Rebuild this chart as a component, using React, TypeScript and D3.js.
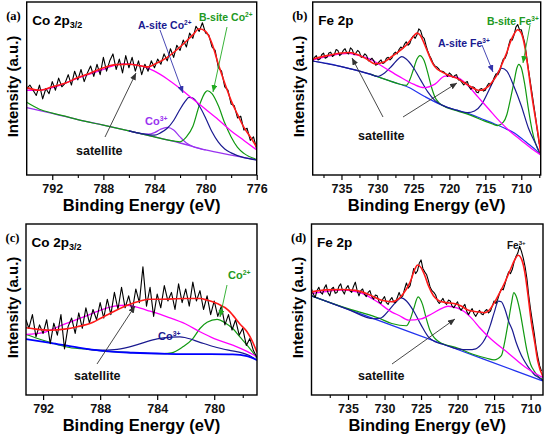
import React, { useEffect, useRef } from "react";
import * as d3 from "d3";

type Pt = [number, number];

// ---------- (a) Co 2p3/2 ----------
const aRaw: Pt[] = [
  [794, 50], [793.75, 52], [793.5, 49], [793.25, 46], [793, 52], [792.75, 44], [792.5, 50], [792.25, 47],
  [792, 54], [791.75, 49], [791.5, 56], [791.25, 51], [791, 53], [790.75, 58], [790.5, 52], [790.25, 60],
  [790, 55], [789.75, 61], [789.5, 54], [789.25, 59], [789, 63], [788.75, 57], [788.5, 64], [788.25, 58],
  [788, 68], [787.75, 60], [787.5, 66], [787.25, 70], [787, 61], [786.75, 67], [786.5, 59], [786.25, 69],
  [786, 62], [785.75, 68], [785.5, 60], [785.25, 66], [785, 58], [784.75, 64], [784.5, 60], [784.25, 66],
  [784, 62], [783.75, 67], [783.5, 64], [783.25, 70], [783, 66], [782.75, 73], [782.5, 68], [782.25, 75],
  [782, 72], [781.75, 78], [781.5, 74], [781.25, 82], [781, 79], [780.75, 86], [780.5, 83], [780.25, 88],
  [780, 82], [779.75, 81], [779.5, 74], [779.25, 72], [779, 62], [778.75, 60], [778.5, 51], [778.25, 49],
  [778, 41], [777.75, 40], [777.5, 33], [777.25, 34], [777, 26], [776.75, 27], [776.5, 20], [776.25, 22],
  [776, 15],
];
const aEnvelope: Pt[] = [
  [794, 50.5], [793, 49], [792, 51], [791, 53], [790, 56.3], [789, 59], [788, 62], [787, 63.8], [786, 64],
  [785, 63], [784.5, 62.5], [784, 64], [783, 68], [782, 74], [781, 81], [780.5, 84.5], [780, 83], [779.5, 76],
  [779, 64], [778.5, 53], [778, 43], [777.5, 35], [777, 27.5], [776.5, 22], [776, 16],
];
const aSatellite: Pt[] = [
  [794, 49], [793, 49], [792, 50.5], [791, 53], [790, 56], [789, 58.5], [788, 61], [787.5, 62.5], [786.4, 64.2],
  [785, 63], [784, 60], [783, 55.5], [782, 50], [781, 44], [780, 38], [779, 32], [778, 25.5], [777, 20], [776, 14.5],
];
const aBackground: Pt[] = [
  [794, 39], [792, 35.6], [790, 32], [788, 28.8], [786, 25.5], [784, 22], [782, 18.5], [780, 14.5], [778, 11.5], [776, 8.7],
];
const aASite: Pt[] = [
  [786, 25.5], [785, 23.9], [784, 23], [783.5, 24.5], [783, 27], [782.5, 31.5], [782, 38], [781.6, 42.5],
  [781.3, 44.9], [781, 44.5], [780.5, 40], [780, 33], [779.5, 25], [779, 19], [778.5, 15], [778, 12.8], [777, 10], [776, 8.7],
];
const aBSite: Pt[] = [
  [794, 42], [793, 38], [792, 35.8], [791, 34], [790, 32], [788, 28.8], [786, 25.5], [784, 22], [783, 20.3],
  [782, 19.2], [781.5, 22], [781, 28], [780.5, 40], [780, 48], [779.85, 48.7], [779.5, 47], [779, 40], [778.5, 30],
  [778, 22], [777.5, 16], [777, 12.5], [776, 9],
];
const aCo3: Pt[] = [
  [786, 25.5], [785, 23.8], [784.5, 23.6], [784, 24.5], [783.5, 26.5], [783, 27.5], [782.5, 26], [782, 22],
  [781.5, 18.5], [781, 16.5], [780, 14.5],
];

// ---------- (b) Fe 2p ----------
const bRaw: Pt[] = [
  [739, 66], [738.75, 68], [738.5, 69], [738.25, 66.5], [738, 67], [737.75, 69.5], [737.5, 70.5], [737.25, 67.5],
  [737, 68], [736.75, 70.5], [736.5, 71], [736.25, 68.5], [736, 69.5], [735.75, 72.5], [735.5, 72], [735.25, 69],
  [735, 70], [734.75, 72], [734.5, 73], [734.25, 70.5], [734, 70], [733.75, 73.5], [733.5, 72.5], [733.25, 69.5],
  [733, 70.5], [732.75, 72], [732.5, 71], [732.25, 68], [732, 68.5], [731.75, 70], [731.5, 69], [731.25, 66],
  [731, 66.5], [730.75, 67.5], [730.5, 66], [730.25, 63.5], [730, 64], [729.75, 65.5], [729.5, 66.5], [729.25, 64.5],
  [729, 65], [728.75, 67.5], [728.5, 68], [728.25, 66.5], [728, 67.5], [727.75, 70], [727.5, 71], [727.25, 70],
  [727, 72.5], [726.75, 74], [726.5, 73], [726.25, 75.5], [726, 77], [725.75, 75], [725.5, 76], [725.25, 79],
  [725, 80.5], [724.75, 79], [724.5, 81], [724.25, 84.5], [724, 83.5], [723.75, 80], [723.5, 79], [723.25, 75],
  [723, 71.5], [722.75, 69], [722.5, 67], [722.25, 64.5], [722, 63], [721.75, 62.5], [721.5, 61.5], [721.25, 60],
  [721, 60], [720.75, 59.5], [720.5, 58.5], [720.25, 57], [720, 59], [719.75, 58], [719.5, 56.5], [719.25, 57.5],
  [719, 58], [718.75, 55], [718.5, 55], [718.25, 53.5], [718, 52], [717.75, 53.5], [717.5, 54], [717.25, 51],
  [717, 49.5], [716.75, 51], [716.5, 50.5], [716.25, 48], [716, 47.5], [715.75, 49.5], [715.5, 50], [715.25, 48.5],
  [715, 49], [714.75, 51.5], [714.5, 53], [714.25, 52], [714, 53.5], [713.75, 56.5], [713.5, 58.5], [713.25, 58],
  [713, 60], [712.75, 64], [712.5, 67], [712.25, 67.5], [712, 70], [711.75, 75], [711.5, 78.5], [711.25, 78],
  [711, 81], [710.75, 85.5], [710.5, 87], [710.25, 84], [710, 84], [709.75, 80], [709.5, 76], [709.25, 68],
  [709, 61], [708.75, 54], [708.5, 47], [708.25, 40], [708, 33], [707.75, 25], [707.5, 18],
];
const bEnvelope: Pt[] = [
  [739, 67], [737, 69], [735, 70.5], [734, 70.8], [733, 70], [731.5, 67], [730.3, 64.3], [729, 65.5], [728, 68.5],
  [727, 71.5], [726, 75], [725.2, 79], [724.5, 82], [724, 80.5], [723.5, 76], [723, 71], [722.5, 66], [722, 62.5],
  [721, 59.5], [720, 57.5], [719, 56], [718, 53.5], [717, 51], [716, 49], [715.5, 49], [715, 50], [714.5, 51.5],
  [714, 54], [713.5, 57], [713, 61], [712.5, 66], [712, 71], [711.5, 77], [711, 81.5], [710.5, 84], [710, 82],
  [709.5, 74], [709, 60], [708.5, 45], [708, 32], [707.6, 22], [707.3, 12],
];
const bSatellite: Pt[] = [
  [739, 66.5], [737, 68.5], [735, 70], [734, 70.3], [733, 69.5], [731, 67], [729, 62], [727, 57], [725, 52.5],
  [723.5, 50.5], [722, 52.5], [720.6, 57.2], [719, 56.5], [717.5, 52], [716, 45], [714.5, 38], [713, 31],
  [711.5, 25], [710, 20], [708.5, 15], [707.3, 11.6],
];
const bBackground: Pt[] = [
  [739, 65.9], [737, 64.5], [735, 62.6], [732.5, 60], [730.3, 57.2], [728, 54], [725.7, 50.7], [723.5, 45.5],
  [721.1, 40.5], [719, 37.5], [717.4, 35.6], [715.5, 32.5], [713.7, 29.5], [712.3, 27], [710.9, 24.1],
  [709.9, 21], [709, 17.9], [708, 14.5], [707.3, 11.6],
];
const bASite: Pt[] = [
  [739, 65.9], [735, 62.6], [731, 58.3], [730, 57], [729, 59], [728, 63], [727, 67.5], [726.6, 68.4], [726, 67],
  [725, 62], [724, 55], [723, 48], [722, 43], [721, 40.4], [719, 37.5], [717.5, 36], [716.5, 37], [715.5, 41],
  [714.5, 49], [713.5, 57.5], [712.7, 61.7], [712, 60], [711, 51], [710, 40], [709, 27], [708, 18], [707.3, 11.6],
];
const bBSite: Pt[] = [
  [731, 58.3], [728, 54], [727, 52.6], [726, 51.8], [725.5, 55], [725, 61], [724.5, 67], [724.1, 69], [723.5, 66],
  [723, 59], [722.5, 51], [722, 45], [721.5, 42], [721, 40.3], [719, 37.2], [717, 34.5], [715, 31], [714, 29.5],
  [713.3, 28.5], [712.5, 30.5], [712, 35], [711.5, 44], [711, 54], [710.6, 62], [710.35, 64], [710, 62],
  [709.5, 52], [709, 38], [708.5, 26], [708, 18], [707.3, 11.6],
];

// ---------- (c) Co 2p3/2 ----------
const cRaw: Pt[] = [
  [793.2, 44], [793, 39], [792.75, 47], [792.5, 34], [792.25, 41], [792, 36], [791.75, 44], [791.5, 30],
  [791.25, 42], [791, 35], [790.75, 47], [790.5, 27], [790.25, 40], [790, 45], [789.75, 36], [789.5, 48],
  [789.25, 39], [789, 51], [788.75, 42], [788.5, 50], [788.25, 44], [788, 54], [787.75, 45], [787.5, 56],
  [787.25, 47], [787, 60], [786.75, 50], [786.5, 63], [786.25, 51], [786, 58], [785.75, 49], [785.5, 62],
  [785.25, 54], [785, 75], [784.75, 52], [784.5, 63], [784.25, 46], [784, 59], [783.75, 51], [783.5, 64],
  [783.25, 55], [783, 60], [782.75, 50], [782.5, 65], [782.25, 54], [782, 62], [781.75, 52], [781.5, 66],
  [781.25, 55], [781, 61], [780.75, 50], [780.5, 58], [780.25, 47], [780, 55], [779.75, 46], [779.5, 52],
  [779.25, 41], [779, 47], [778.75, 38], [778.5, 44], [778.25, 35], [778, 39], [777.75, 29], [777.5, 33],
  [777.25, 26], [777, 22],
];
const cEnvelope: Pt[] = [
  [793.2, 39.3], [792.5, 38.5], [791.5, 37.9], [790.5, 38.5], [789.6, 39.9], [788.5, 42.5], [788, 44.7],
  [787, 49], [786.1, 52.5], [785.2, 55], [784.5, 56], [783.8, 56], [782, 56.4], [781, 56.4], [780.5, 55.5],
  [779.8, 53.5], [779, 49.5], [778.7, 46.7], [778.2, 41.5], [777.7, 37], [777.3, 31], [777, 24.9],
];
const cSatellite: Pt[] = [
  [793.2, 35.4], [792, 36.5], [791.5, 38], [790.5, 41.5], [789.2, 45.5], [788, 49.5], [787, 52], [786.2, 52.5],
  [785.5, 51.5], [784.5, 49], [783.3, 45.7], [782, 41.5], [781, 37], [780, 33], [778.7, 29.2], [777.7, 25.5], [777, 22.4],
];
const cBackground: Pt[] = [
  [793.2, 32.7], [791.5, 30.5], [789.6, 27.8], [788, 25.9], [785.7, 24.7], [783.3, 24.1], [781, 23.9],
  [778.7, 23.7], [777.7, 22.8], [777, 20.4],
];
const cCo3: Pt[] = [
  [789, 26.8], [788, 26.2], [787, 26.5], [786, 28], [785, 30.5], [784, 32.8], [783, 33.8], [782.4, 34], [782, 33.5],
  [781, 30.8], [780, 28.2], [779, 26.2], [778, 24.5], [777.5, 23], [777, 20.4],
];
const cCo2: Pt[] = [
  [793.2, 35.4], [792, 32], [791, 29.5], [790, 27.5], [789, 26.9], [788, 25.9], [785.7, 24.7], [783.5, 24.2],
  [783, 24.6], [782.2, 28.2], [781.5, 33], [781, 38.9], [780.5, 42.5], [779.8, 44.2], [779.2, 42], [778.7, 38.9],
  [778.2, 34], [777.7, 29.2], [777.3, 25], [777, 21.4],
];

// ---------- (d) Fe 2p ----------
const dRaw: Pt[] = [
  [740, 62], [739.75, 59], [739.5, 57], [739.25, 61], [739, 63], [738.75, 60], [738.5, 59], [738.25, 62.5],
  [738, 64.5], [737.75, 60], [737.5, 58], [737.25, 62], [737, 63], [736.75, 59.5], [736.5, 60], [736.25, 63.5],
  [736, 65], [735.75, 61], [735.5, 59], [735.25, 62.5], [735, 64], [734.75, 61], [734.5, 60], [734.25, 63.5],
  [734, 66], [733.75, 61], [733.5, 58], [733.25, 61], [733, 62], [732.75, 59], [732.5, 57.5], [732.25, 60],
  [732, 61], [731.75, 57.5], [731.5, 56], [731.25, 58.5], [731, 58], [730.75, 54.5], [730.5, 53.5], [730.25, 56],
  [730, 57.5], [729.75, 54], [729.5, 53], [729.25, 55.5], [729, 57], [728.75, 54.5], [728.5, 54], [728.25, 57],
  [728, 60], [727.75, 57], [727.5, 58], [727.25, 62], [727, 65.5], [726.75, 62.5], [726.5, 64], [726.25, 69],
  [726, 74], [725.75, 71], [725.5, 72.5], [725.25, 77], [725, 79], [724.75, 74], [724.5, 72], [724.25, 70.5],
  [724, 67], [723.75, 63], [723.5, 61], [723.25, 60], [723, 58.5], [722.75, 55], [722.5, 53.5], [722.25, 55],
  [722, 56.5], [721.75, 54], [721.5, 53], [721.25, 55.5], [721, 55], [720.75, 52], [720.5, 51], [720.25, 53],
  [720, 54.5], [719.75, 51], [719.5, 49.5], [719.25, 51.5], [719, 53], [718.75, 49], [718.5, 47], [718.25, 49],
  [718, 50.5], [717.75, 47.5], [717.5, 46], [717.25, 48], [717, 49.5], [716.75, 47.5], [716.5, 47], [716.25, 49],
  [716, 50], [715.75, 48], [715.5, 49], [715.25, 52], [715, 55], [714.75, 53.5], [714.5, 56], [714.25, 59.5],
  [714, 62], [713.75, 61.5], [713.5, 65], [713.25, 69], [713, 72], [712.75, 71], [712.5, 73.5], [712.25, 78],
  [712, 81], [711.75, 83], [711.5, 87], [711.25, 84], [711, 80], [710.75, 75], [710.5, 68], [710.25, 58],
  [710, 50], [709.75, 43], [709.5, 36], [709.25, 28], [709, 22], [708.75, 17], [708.5, 14],
];
const dEnvelope: Pt[] = [
  [740, 60.3], [738, 61.5], [736, 61.7], [734, 61.2], [732, 58.5], [730.5, 55.5], [729, 54.5], [728, 56.5], [727, 62],
  [726.5, 66], [725.8, 74], [725.5, 76], [725, 74.5], [724.5, 70], [724, 64], [723.3, 58], [722.5, 55], [721.5, 54],
  [720.5, 53.5], [719.5, 52], [718.5, 49.5], [717, 48.5], [716.3, 48.1], [715.5, 50.5], [714.9, 54.5], [714.2, 60],
  [713.5, 66.1], [712.7, 74], [712.2, 78.8], [711.7, 81.7], [711.2, 79], [710.8, 72], [710.4, 60], [709.9, 42.8],
  [709.4, 30], [709, 19.5], [708.3, 10.7],
];
const dSatellite: Pt[] = [
  [740, 59.3], [738, 60.5], [736, 61.3], [734, 60.5], [733, 59.3], [731, 54.5], [729, 48.5], [728, 46.5],
  [726.7, 43.8], [725, 44.5], [723.5, 47.5], [722, 51], [721.3, 51.9], [720, 50.8], [719, 48.5], [718, 44.5],
  [717, 39.5], [715.5, 33], [713, 24.3], [710.8, 16.5], [708.3, 10.1],
];
const dBackground: Pt[] = [[740, 58], [730, 42.3], [720, 26.6], [712, 14], [708.3, 8.2]];
const dASite: Pt[] = [
  [740, 58], [735, 50.1], [731.5, 44.6], [730.5, 45], [729.5, 49], [728.5, 54], [727.7, 56.8], [727, 55], [726, 49],
  [725, 41], [724, 34], [723, 31], [722, 29.7], [720, 27], [718.5, 26.5], [717.5, 27], [717, 28.5], [716.5, 31],
  [716, 35], [715.5, 41], [715, 48], [714.4, 54.9], [714, 54.5], [713.5, 50], [713, 43], [712.5, 38], [712, 31],
  [711.5, 25.5], [711, 21], [710.5, 17.5], [710, 14.5], [709.5, 12], [709, 10.5], [708.3, 8.5],
];
const dBSite: Pt[] = [
  [740, 58], [735, 50.5], [733, 48], [731, 45.3], [729, 41.8], [727, 40.5], [726.5, 44], [726, 50.5], [725.4, 57.4],
  [724.8, 53], [724.3, 45], [723.8, 38], [723.2, 33.5], [722.5, 31], [720, 27.5], [718, 24], [716, 21.5], [715, 20.5],
  [714, 23], [713.5, 32], [713, 44], [712.6, 54], [712.3, 59.9], [712, 58], [711.5, 50], [711, 38], [710.5, 26],
  [710, 18], [709.5, 14], [709, 11], [708.3, 9],
];

// axis ticks
const coMajor = [792, 788, 784, 780, 776];
const coMinor = [790, 786, 782, 778];
const feMajor = [735, 730, 725, 720, 715, 710];
const feMinor = [737.5, 732.5, 727.5, 722.5, 717.5, 712.5, 707.5];

const FONT = "Arial, 'Liberation Sans', Helvetica, sans-serif";
const SERIF = "'Times New Roman', 'Liberation Serif', serif";
const RED = "#ff1a1a";
const MAGENTA = "#ff00ff";
const NAVY = "#1a1a90";
const GREEN = "#119911";
const PURPLE = "#9a33f0";
const BLUE = "#2233ee";

interface Curve { data: Pt[]; color: string; width: number; raw?: boolean }
interface Label { x: number; y: number; text: string; sup?: string; color: string; size: number }
interface Arrow { x1: number; y1: number; x2: number; y2: number; color: string }
interface Panel {
  left: number; top: number; width: number; height: number;
  domain: [number, number]; major: number[]; minor: number[];
  tag: string; title: string; titleSub?: string;
  curves: Curve[]; labels: Label[]; arrows: Arrow[];
}

const panels: Panel[] = [
  {
    left: 26.7, top: 2, width: 230, height: 173, domain: [794, 776], major: coMajor, minor: coMinor,
    tag: "(a)", title: "Co 2p", titleSub: "3/2",
    curves: [
      { data: aBackground, color: PURPLE, width: 1.3 },
      { data: aCo3, color: PURPLE, width: 1.2 },
      { data: aBSite, color: GREEN, width: 1.2 },
      { data: aASite, color: NAVY, width: 1.2 },
      { data: aSatellite, color: MAGENTA, width: 1.3 },
      { data: aRaw, color: "#000", width: 1.1, raw: true },
      { data: aEnvelope, color: RED, width: 1.6 },
    ],
    labels: [
      { x: 111.3, y: 27, text: "A-site Co", sup: "2+", color: NAVY, size: 10.5 },
      { x: 172.3, y: 19, text: "B-site Co", sup: "2+", color: "#229922", size: 10.5 },
      { x: 118.3, y: 123, text: "Co", sup: "3+", color: PURPLE, size: 11 },
      { x: 49.3, y: 153, text: "satellite", color: "#111", size: 12.5 },
    ],
    arrows: [
      { x1: 78.3, y1: 135, x2: 109.3, y2: 71, color: "#333" },
      { x1: 133.3, y1: 28, x2: 156.3, y2: 91, color: "#3333aa" },
      { x1: 200.3, y1: 25, x2: 186.3, y2: 90, color: "#22aa22" },
    ],
  },
  {
    left: 312.7, top: 2, width: 228, height: 173, domain: [739, 707.3], major: feMajor, minor: feMinor,
    tag: "(b)", title: "Fe 2p",
    curves: [
      { data: bBackground, color: BLUE, width: 1.2 },
      { data: bBSite, color: GREEN, width: 1.2 },
      { data: bASite, color: NAVY, width: 1.2 },
      { data: bSatellite, color: MAGENTA, width: 1.3 },
      { data: bRaw, color: "#000", width: 1.1, raw: true },
      { data: bEnvelope, color: RED, width: 1.6 },
    ],
    labels: [
      { x: 125.3, y: 45, text: "A-site Fe", sup: "3+", color: NAVY, size: 10.5 },
      { x: 174.3, y: 23, text: "B-site Fe", sup: "3+", color: "#229922", size: 10.5 },
      { x: 45.3, y: 138, text: "satellite", color: "#111", size: 12.5 },
    ],
    arrows: [
      { x1: 70.3, y1: 115, x2: 39.3, y2: 56, color: "#333" },
      { x1: 90.3, y1: 115, x2: 144.3, y2: 81, color: "#333" },
      { x1: 169.3, y1: 43, x2: 180.3, y2: 70, color: "#3333aa" },
      { x1: 217.3, y1: 23, x2: 210.3, y2: 61, color: "#22aa22" },
    ],
  },
  {
    left: 26, top: 224, width: 231, height: 171, domain: [793.2, 777], major: coMajor.slice(0, 4), minor: coMinor,
    tag: "(c)", title: "Co 2p", titleSub: "3/2",
    curves: [
      { data: cCo2, color: GREEN, width: 1.2 },
      { data: cCo3, color: NAVY, width: 1.2 },
      { data: cBackground, color: "#0000ff", width: 1.8 },
      { data: cSatellite, color: MAGENTA, width: 1.3 },
      { data: cRaw, color: "#000", width: 1.1, raw: true },
      { data: cEnvelope, color: RED, width: 1.6 },
    ],
    labels: [
      { x: 202, y: 55, text: "Co", sup: "2+", color: "#229922", size: 11 },
      { x: 132, y: 116, text: "Co", sup: "3+", color: NAVY, size: 11 },
      { x: 48, y: 156, text: "satellite", color: "#111", size: 12.5 },
    ],
    arrows: [
      { x1: 71, y1: 140, x2: 109, y2: 82, color: "#333" },
      { x1: 201, y1: 61, x2: 194, y2: 93, color: "#22aa22" },
    ],
  },
  {
    left: 311.5, top: 224, width: 231.5, height: 171, domain: [740, 708.3], major: feMajor, minor: feMinor.slice(0, 6),
    tag: "(d)", title: "Fe 2p",
    curves: [
      { data: dBackground, color: BLUE, width: 1.3 },
      { data: dBSite, color: GREEN, width: 1.2 },
      { data: dASite, color: NAVY, width: 1.2 },
      { data: dSatellite, color: MAGENTA, width: 1.3 },
      { data: dRaw, color: "#000", width: 1.1, raw: true },
      { data: dEnvelope, color: RED, width: 1.6 },
    ],
    labels: [
      { x: 195.5, y: 25, text: "Fe", sup: "3+", color: "#111", size: 10 },
      { x: 46.5, y: 156, text: "satellite", color: "#111", size: 12.5 },
    ],
    arrows: [{ x1: 80.5, y1: 140, x2: 143.5, y2: 95, color: "#333" }],
  },
];

export default function App() {
  const ref = useRef<SVGSVGElement>(null);

  useEffect(() => {
    document.body.style.margin = "0";
    const svg = d3.select(ref.current);
    svg.selectAll("*").remove();
    const defs = svg.append("defs");

    const markerFor = (color: string) => {
      const id = "arr-" + color.replace("#", "");
      if (defs.select("#" + id).empty()) {
        defs.append("marker")
          .attr("id", id)
          .attr("markerUnits", "userSpaceOnUse")
          .attr("markerWidth", 7).attr("markerHeight", 6)
          .attr("refX", 7).attr("refY", 3)
          .attr("orient", "auto")
          .append("path").attr("d", "M0,0 L7,3 L0,6 Z").attr("fill", color);
      }
      return `url(#${id})`;
    };

    panels.forEach((p, i) => {
      const x = d3.scaleLinear().domain(p.domain).range([p.left, p.left + p.width]);
      const y = d3.scaleLinear().domain([0, 100]).range([p.top + p.height, p.top]);
      const bottom = p.top + p.height;

      defs.append("clipPath").attr("id", `clip${i}`)
        .append("rect").attr("x", p.left).attr("y", p.top).attr("width", p.width).attr("height", p.height);

      const g = svg.append("g");
      const plot = g.append("g").attr("clip-path", `url(#clip${i})`);
      p.curves.forEach(c => {
        const line = d3.line<Pt>()
          .x(d => x(d[0]))
          .y(d => y(d[1]))
          .curve(c.raw ? d3.curveLinear : d3.curveMonotoneX);
        plot.append("path")
          .attr("d", line(c.data))
          .attr("fill", "none")
          .attr("stroke", c.color)
          .attr("stroke-width", c.width)
          .attr("stroke-linejoin", "round");
      });

      // frame
      g.append("rect")
        .attr("x", p.left).attr("y", p.top).attr("width", p.width).attr("height", p.height)
        .attr("fill", "none").attr("stroke", "#000").attr("stroke-width", 1.4);

      // x axis
      const major = d3.axisBottom(x).tickValues(p.major).tickSize(5).tickPadding(4).tickFormat(d3.format("d"));
      const minor = d3.axisBottom(x).tickValues(p.minor).tickSize(3).tickFormat(() => "");
      const ax = g.append("g").attr("transform", `translate(0,${bottom})`).call(major);
      ax.select(".domain").remove();
      ax.selectAll("line").attr("stroke", "#000").attr("stroke-width", 1.2);
      ax.selectAll("text")
        .attr("font-family", FONT).attr("font-weight", "bold").attr("font-size", 12.5).attr("fill", "#111");
      const mx = g.append("g").attr("transform", `translate(0,${bottom})`).call(minor);
      mx.select(".domain").remove();
      mx.selectAll("line").attr("stroke", "#000").attr("stroke-width", 1.1);

      g.append("text")
        .attr("x", p.left + p.width / 2).attr("y", bottom + 36)
        .attr("text-anchor", "middle")
        .attr("font-family", FONT).attr("font-weight", "bold").attr("font-size", 16.5)
        .text("Binding Energy (eV)");

      g.append("text")
        .attr("transform", `translate(${p.left - 8.5},${p.top + p.height / 2 - 2}) rotate(-90)`)
        .attr("text-anchor", "middle")
        .attr("font-family", FONT).attr("font-weight", "bold").attr("font-size", 15)
        .text("Intensity (a.u.)");

      // panel tag and title
      g.append("text")
        .attr("x", p.left - 20.5).attr("y", p.top + 18)
        .attr("font-family", SERIF).attr("font-weight", "bold").attr("font-size", 12.5)
        .text(p.tag);
      const title = g.append("text")
        .attr("x", p.left + 5.5).attr("y", p.top + 23)
        .attr("font-family", FONT).attr("font-weight", "bold").attr("font-size", 13.5);
      title.append("tspan").text(p.title);
      if (p.titleSub) title.append("tspan").attr("dy", 3).attr("font-size", 9).text(p.titleSub);

      p.labels.forEach(l => {
        const t = g.append("text")
          .attr("x", p.left + l.x).attr("y", p.top + l.y)
          .attr("font-family", FONT).attr("font-weight", "bold").attr("font-size", l.size)
          .attr("fill", l.color);
        t.append("tspan").text(l.text);
        if (l.sup) t.append("tspan").attr("dy", -l.size * 0.4).attr("font-size", l.size * 0.62).text(l.sup);
      });

      p.arrows.forEach(a => {
        g.append("line")
          .attr("x1", p.left + a.x1).attr("y1", p.top + a.y1)
          .attr("x2", p.left + a.x2).attr("y2", p.top + a.y2)
          .attr("stroke", a.color).attr("stroke-width", 0.9)
          .attr("marker-end", markerFor(a.color));
      });
    });
  }, []);

  return <svg ref={ref} width={550} height={444} style={{ display: "block", background: "#fff" }} />;
}
